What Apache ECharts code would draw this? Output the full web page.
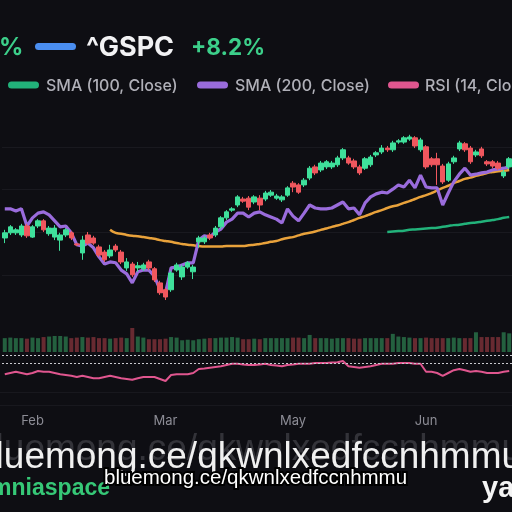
<!DOCTYPE html>
<html><head><meta charset="utf-8">
<script src="https://cdn.jsdelivr.net/npm/echarts@6/dist/echarts.min.js"></script>
<style>html,body{margin:0;padding:0;background:#0e0e13;}#c{width:512px;height:512px;}</style>
</head><body><div id="c"></div>
<script>
// ---- data ----
const openV  = [5787,5799,5799,5794,5815,5789,5815,5827,5797,5789,5782,5794,5799,5773,5752,5794,5787,5766,5754,5745,5768,5754,5717,5726,5717,5715,5731,5715,5682,5666,5666,5712,5696,5719,5708,5778,5778,5794,5794,5813,5834,5852,5864,5878,5880,5871,5880,5878,5887,5880,5876,5887,5915,5911,5911,5927,5953,5946,5953,5953,5958,5974,5974,5967,5953,5950,5958,5981,5988,5997,5993,6011,6011,6018,6021,5993,6000,5972,5972,5955,5922,5965,5995,6007,5997,5981,5995,5965,5965,5962,5932,5953];
const closeV = [5799,5813,5806,5815,5792,5813,5827,5806,5810,5810,5794,5806,5787,5771,5782,5775,5775,5747,5736,5759,5759,5731,5731,5701,5722,5724,5717,5689,5659,5649,5705,5724,5719,5729,5719,5787,5787,5787,5810,5834,5848,5855,5883,5873,5859,5883,5864,5892,5894,5885,5883,5904,5906,5894,5922,5950,5939,5962,5965,5962,5974,5993,5962,5953,5939,5972,5976,5986,5997,5993,6009,6014,6021,6023,6002,6016,5953,5958,5958,5918,5960,5974,6009,5993,5965,5988,5979,5960,5955,5950,5941,5972];
const lowV   = [5775,5794,5794,5789,5787,5787,5810,5801,5792,5782,5757,5789,5782,5768,5736,5771,5771,5743,5731,5740,5754,5726,5710,5696,5708,5710,5712,5684,5654,5642,5661,5708,5689,5715,5691,5764,5773,5782,5789,5808,5829,5848,5859,5869,5852,5866,5852,5873,5883,5876,5871,5883,5894,5890,5906,5922,5934,5941,5948,5948,5953,5969,5958,5948,5934,5946,5953,5976,5983,5988,5988,6007,6007,6014,5997,5988,5948,5953,5911,5913,5918,5960,5990,5988,5960,5976,5974,5955,5950,5946,5927,5948];
const highV  = [5806,5817,5810,5820,5820,5817,5831,5831,5815,5817,5799,5810,5803,5775,5792,5801,5792,5771,5759,5771,5773,5759,5740,5731,5731,5729,5736,5719,5687,5670,5710,5729,5724,5733,5724,5792,5792,5799,5815,5838,5852,5859,5887,5883,5885,5887,5887,5897,5899,5890,5887,5908,5920,5915,5927,5955,5958,5967,5969,5967,5979,5997,5979,5972,5958,5976,5981,5990,6004,6002,6014,6018,6025,6028,6025,6021,6004,5976,5986,5960,5965,5979,6014,6011,6002,5993,6000,5969,5969,5967,5946,5976];
const sma50  = [null,null,null,null,null,null,null,null,null,null,null,null,null,null,null,null,null,null,null,5806,5799,5797,5794,5792,5791,5789,5787,5785,5782,5780,5778,5775,5773,5771,5770,5768,5767,5767,5767,5767,5768,5768,5768,5768,5770,5771,5773,5775,5778,5780,5784,5787,5789,5793,5797,5799,5802,5806,5809,5813,5816,5820,5824,5829,5834,5838,5843,5848,5852,5857,5861,5864,5869,5873,5878,5883,5887,5892,5898,5904,5909,5915,5920,5925,5928,5932,5935,5939,5941,5943,5944,5946];
const sma100 = [null,null,null,null,null,null,null,null,null,null,null,null,null,null,null,null,null,null,null,null,null,null,null,null,null,null,null,null,null,null,null,null,null,null,null,null,null,null,null,null,null,null,null,null,null,null,null,null,null,null,null,null,null,null,null,null,null,null,null,null,null,null,null,null,null,null,null,null,null,5801,5802,5803,5804,5806,5807,5808,5809,5810,5811,5813,5815,5817,5818,5820,5822,5823,5825,5827,5829,5831,5834,5836];
const sma200 = [5855,5855,5850,5855,5815,5834,5845,5848,5841,5827,5813,5815,5799,5771,5768,5775,5764,5743,5726,5731,5729,5712,5703,5682,5708,5712,5712,5698,5666,5659,5717,5719,5724,5729,5729,5782,5792,5789,5801,5808,5824,5831,5845,5845,5836,5845,5848,5841,5836,5831,5822,5855,5838,5827,5845,5864,5857,5855,5855,5857,5864,5871,5855,5857,5841,5869,5883,5890,5894,5892,5901,5911,5906,5922,5904,5934,5906,5904,5904,5864,5892,5918,5936,5950,5934,5936,5939,5941,5946,5948,5950,5953];
const volume = [2.6,2.7,2.6,2.6,2.5,2.7,2.6,2.8,2.9,3.0,3.0,2.9,2.6,2.7,2.8,2.7,2.8,2.6,2.6,2.5,2.6,2.7,2.6,4.5,2.9,2.7,2.4,2.4,2.4,2.5,2.8,2.7,2.2,2.3,2.2,2.4,2.5,2.6,2.6,2.7,2.7,2.8,2.7,2.4,2.4,2.5,2.4,2.6,2.6,2.6,2.6,2.6,2.7,2.7,2.6,3.2,2.6,2.6,2.6,2.5,2.6,2.6,2.6,2.5,2.5,2.6,2.6,2.6,2.6,2.6,3.4,2.9,2.8,2.7,2.6,2.6,2.7,2.6,2.6,2.6,2.6,2.7,2.6,2.6,2.6,3.7,2.8,2.8,2.8,2.8,3.7,3.5];
const rsi14  = [56,57.5,59,57.5,56,57.5,60,59,59,57.5,56,55,54,52.5,54,52.5,51,51,52.5,54,52.5,51,50,49,51,52.5,52.5,52.5,50,47.5,55,56,56,56,57.5,62.5,63,64,65,66,67.5,69,69,68,67.5,67.5,68,69,67.5,67,66,67.5,68,69,69,69,70,70,70,70.5,71,72.5,66,65,64,65,66,67.5,69,69,69,70,70,70,69,69,59,59,57.5,54,57.5,61,62.5,61,59,60,59,57.5,57.5,57.5,59,60];
const rsiLevels = [80, 70];
const tickIdx  = [5, 29, 52, 76];
const tickText = ['Feb', 'Mar', 'May', 'Jun'];

// categories: trading days
const categories = [];
(function(){ let d = new Date(Date.UTC(2025,0,27)); while (categories.length < openV.length) { const w = d.getUTCDay(); if (w !== 0 && w !== 6) categories.push(d.toISOString().slice(0,10)); d.setUTCDate(d.getUTCDate()+1); } })();

const UP = '#3fe09b', DOWN = '#f0575e';
const candles = openV.map((o,i)=>[o, closeV[i], lowV[i], highV[i]]);
const volData = volume.map((v,i)=>({value:v, itemStyle:{color: closeV[i] >= openV[i] ? '#24603f' : '#682a31'}}));

const chart = echarts.init(document.getElementById('c'), null, {renderer:'canvas'});
const hiddenX = (gi, showLabels) => ({
  type:'category', gridIndex:gi, data:categories, boundaryGap:true,
  axisLine:{show:false}, axisTick:{show:false}, splitLine:{show:false},
  axisLabel: showLabels ? {
    show:true, color:'#8c8c95', fontFamily:'Inter', fontSize:13, margin:4,
    interval:(idx)=>tickIdx.indexOf(idx) >= 0,
    formatter:(v,idx)=>{ const k = tickIdx.indexOf(idx); return k>=0 ? tickText[k] : ''; }
  } : {show:false}
});
const F = 'Inter, Roboto, sans-serif';
const LS = '"Liberation Sans", Arial, sans-serif';
chart.setOption({
  backgroundColor:'#0e0e13',
  animation:false,
  grid:[
    {left:2, width:511, top:104, height:214},
    {left:2, width:511, top:320, height:32},
    {left:2, width:511, top:339, height:72}
  ],
  xAxis:[hiddenX(0,false), hiddenX(1,false), hiddenX(2,true)],
  yAxis:[
    {type:'value', gridIndex:0, min:5600, max:6100, interval:100, axisLabel:{show:false}, axisLine:{show:false}, axisTick:{show:false},
     splitLine:{show:true, showMinLine:false, showMaxLine:false, lineStyle:{color:'#19191f', width:1}}},
    {type:'value', gridIndex:1, min:0, max:6, show:false, splitLine:{show:false}},
    {type:'value', gridIndex:2, min:10, max:100, show:false, splitLine:{show:false}}
  ],
  series:[
    {type:'line', xAxisIndex:0, yAxisIndex:0, data:sma50, symbol:'none', smooth:true, z:2,
     lineStyle:{color:'#e9a23b', width:2.5}},
    {type:'line', xAxisIndex:0, yAxisIndex:0, data:sma100, symbol:'none', smooth:true, z:2,
     lineStyle:{color:'#22b27a', width:2.5}},
    {type:'line', xAxisIndex:0, yAxisIndex:0, data:sma200, symbol:'none', z:2,
     lineStyle:{color:'#9a6cdc', width:3.2}},
    {type:'candlestick', xAxisIndex:0, yAxisIndex:0, data:candles, barWidth:5, z:3,
     itemStyle:{color:UP, color0:DOWN, borderColor:UP, borderColor0:DOWN, borderWidth:1}},
    {type:'bar', xAxisIndex:1, yAxisIndex:1, data:volData, barWidth:4},
    {type:'line', xAxisIndex:2, yAxisIndex:2, data:rsi14, symbol:'none', z:3,
     lineStyle:{color:'#e0568f', width:2},
     markLine:{silent:true, symbol:'none', label:{show:false},
       lineStyle:{color:'#c9c9cf', type:[2,2], width:1},
       data: rsiLevels.map(v=>({yAxis:v}))}}
  ],
  graphic:[
    // faint pane lines
    {type:'line', shape:{x1:0,y1:392.5,x2:512,y2:392.5}, style:{stroke:'#18181e', lineWidth:1}, silent:true},
    {type:'line', shape:{x1:0,y1:405.5,x2:512,y2:405.5}, style:{stroke:'#18181e', lineWidth:1}, silent:true},
    // header row 1
    {type:'text', x:-1, y:48, style:{text:'%', font:'700 24px '+F, fill:'#3ccf8a', verticalAlign:'middle'}},
    {type:'rect', shape:{x:35, y:43, width:41, height:7, r:3.5}, style:{fill:'#4a8ef0'}},
    {type:'text', x:86, y:48, style:{text:'^GSPC', font:'700 27px '+F, fill:'#f2f2f4', verticalAlign:'middle'}},
    {type:'text', x:191, y:48, style:{text:'+8.2%', font:'700 22.5px '+F, fill:'#3ccf8a', verticalAlign:'middle'}},
    // header row 2
    {type:'rect', shape:{x:8, y:81.5, width:31, height:7, r:3.5}, style:{fill:'#22b27a'}},
    {type:'text', x:46, y:86, style:{text:'SMA (100, Close)', font:'500 16px '+F, fill:'#b0b0b8', verticalAlign:'middle'}},
    {type:'rect', shape:{x:197, y:81.5, width:31, height:7, r:3.5}, style:{fill:'#9a6cdc'}},
    {type:'text', x:235, y:86, style:{text:'SMA (200, Close)', font:'500 16px '+F, fill:'#b0b0b8', verticalAlign:'middle'}},
    {type:'rect', shape:{x:388, y:81.5, width:31, height:7, r:3.5}, style:{fill:'#e0568f'}},
    {type:'text', x:425, y:86, style:{text:'RSI (14, Close)', font:'500 16px '+F, fill:'#b0b0b8', verticalAlign:'middle'}},
    // bottom watermarks
    {type:'text', x:-25, y:450, style:{text:'bluemong.ce/qkwnlxedfccnhmmu', font:'37px '+LS, fill:'rgba(120,120,128,0.35)', verticalAlign:'middle'}},
    {type:'text', x:-25, y:458, style:{text:'bluemong.ce/qkwnlxedfccnhmmu', font:'37px '+LS, fill:'#f0f0f0', verticalAlign:'middle'}},
    {type:'text', x:110, y:489, style:{text:'Omniaspace', font:'700 23px '+LS, fill:'#36c877', align:'right', verticalAlign:'middle'}},
    {type:'text', x:482, y:489, style:{text:'yahoo!', font:'900 29px '+LS, fill:'#f4f4f4', verticalAlign:'middle'}},
    {type:'text', x:104, y:478, style:{text:'bluemong.ce/qkwnlxedfccnhmmu', font:'20.5px '+LS, fill:'#ffffff', stroke:'#000000', lineWidth:4, verticalAlign:'middle'}}
  ]
});
</script></body></html>
